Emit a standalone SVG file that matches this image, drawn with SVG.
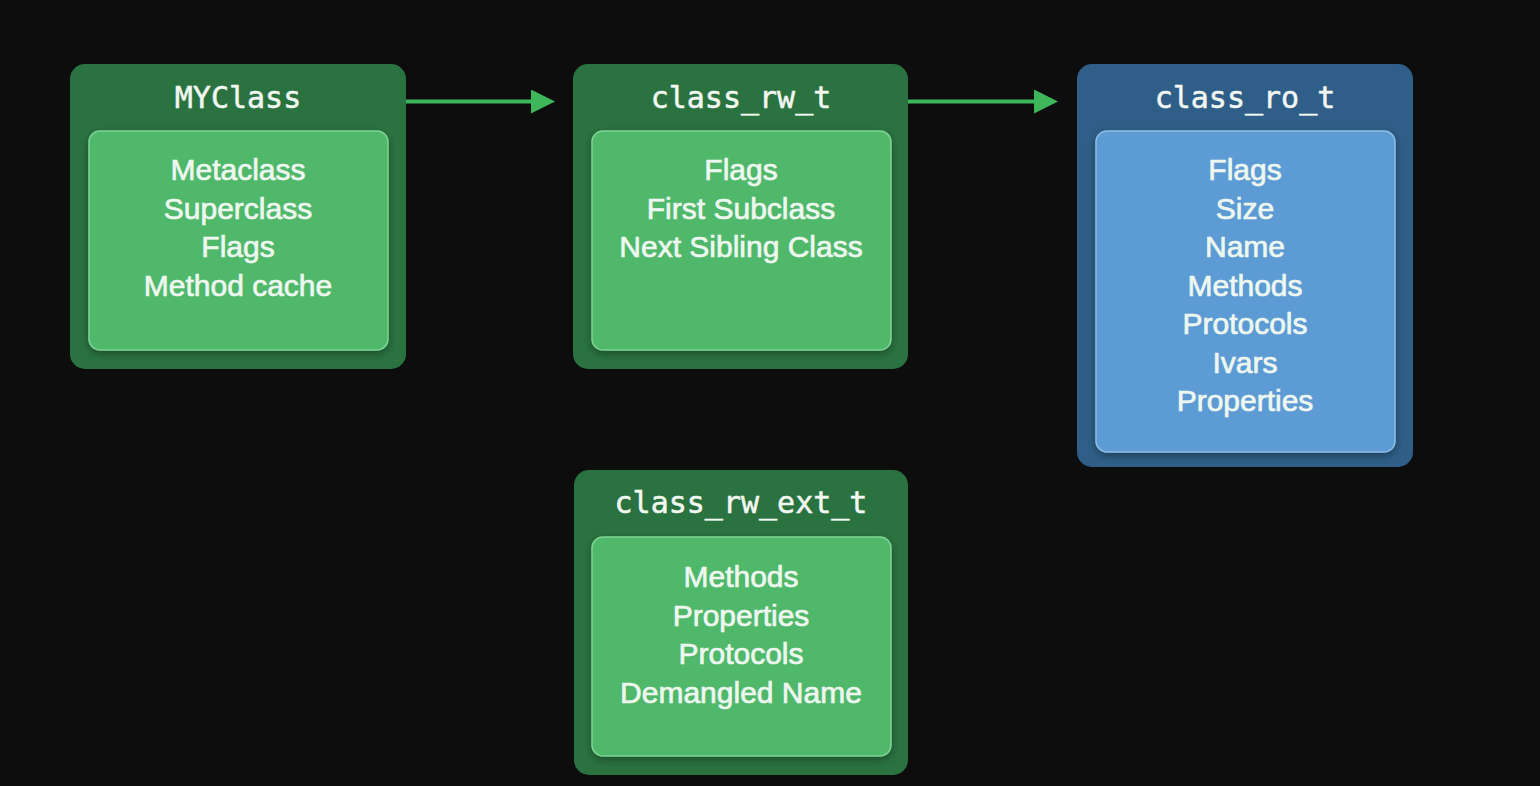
<svg xmlns="http://www.w3.org/2000/svg" width="1540" height="786" viewBox="0 0 1540 786">
<defs>
<style>
.og{fill:#2a7340;}
.ig{fill:#4fb86b;stroke:#7fd394;stroke-width:1.5;}
.ob{fill:#2f5f88;}
.ib{fill:#5b9bd4;stroke:#8dbde6;stroke-width:1.5;}
.title{font-family:"DejaVu Sans Mono","Liberation Mono",monospace;font-size:30px;fill:#f2f7f2;stroke:#f2f7f2;stroke-width:0.5;text-anchor:middle;}
.item{font-family:"Liberation Sans",Arial,sans-serif;font-size:30px;fill:#eef7ef;stroke:#eef7ef;stroke-width:0.7;text-anchor:middle;}
.conn{stroke:#3db75a;stroke-width:4;fill:none;}
</style>
<filter id="sh" x="-10%" y="-10%" width="120%" height="130%">
<feDropShadow dx="0" dy="3" stdDeviation="4" flood-color="#000" flood-opacity="0.35"/>
</filter>
<marker id="ah" markerWidth="24" markerHeight="24" refX="0" refY="12" markerUnits="userSpaceOnUse" orient="auto">
<path d="M0,0 L24,12 L0,24 Z" fill="#3db75a"/>
</marker>
</defs>
<rect width="1540" height="786" fill="#0d0d0d"/>
<g id="connectors">
<line class="conn" x1="406" y1="101.5" x2="531" y2="101.5" marker-end="url(#ah)"/>
<line class="conn" x1="908" y1="101.5" x2="1034" y2="101.5" marker-end="url(#ah)"/>
</g>
<g id="myclass">
<rect class="og" x="70" y="64" width="336" height="305" rx="15"/>
<rect class="ig" x="89" y="131" width="299" height="219" rx="11" filter="url(#sh)"/>
<text class="title" x="238" y="108">MYClass</text>
<text class="item" x="238" y="180">Metaclass</text>
<text class="item" x="238" y="218.5">Superclass</text>
<text class="item" x="238" y="257">Flags</text>
<text class="item" x="238" y="295.5">Method cache</text>
</g>
<g id="class_rw_t">
<rect class="og" x="573" y="64" width="335" height="305" rx="15"/>
<rect class="ig" x="592" y="131" width="299" height="219" rx="11" filter="url(#sh)"/>
<text class="title" x="741" y="108">class_rw_t</text>
<text class="item" x="741" y="180">Flags</text>
<text class="item" x="741" y="218.5">First Subclass</text>
<text class="item" x="741" y="257">Next Sibling Class</text>
</g>
<g id="class_ro_t">
<rect class="ob" x="1077" y="64" width="336" height="403" rx="15"/>
<rect class="ib" x="1096" y="131" width="299" height="321" rx="11" filter="url(#sh)"/>
<text class="title" x="1245" y="108">class_ro_t</text>
<text class="item" x="1245" y="180">Flags</text>
<text class="item" x="1245" y="218.5">Size</text>
<text class="item" x="1245" y="257">Name</text>
<text class="item" x="1245" y="295.5">Methods</text>
<text class="item" x="1245" y="334">Protocols</text>
<text class="item" x="1245" y="372.5">Ivars</text>
<text class="item" x="1245" y="411">Properties</text>
</g>
<g id="class_rw_ext_t">
<rect class="og" x="574" y="470" width="334" height="305" rx="15"/>
<rect class="ig" x="592" y="537" width="299" height="219" rx="11" filter="url(#sh)"/>
<text class="title" x="741" y="513">class_rw_ext_t</text>
<text class="item" x="741" y="587">Methods</text>
<text class="item" x="741" y="625.5">Properties</text>
<text class="item" x="741" y="664">Protocols</text>
<text class="item" x="741" y="702.5">Demangled Name</text>
</g>
</svg>
